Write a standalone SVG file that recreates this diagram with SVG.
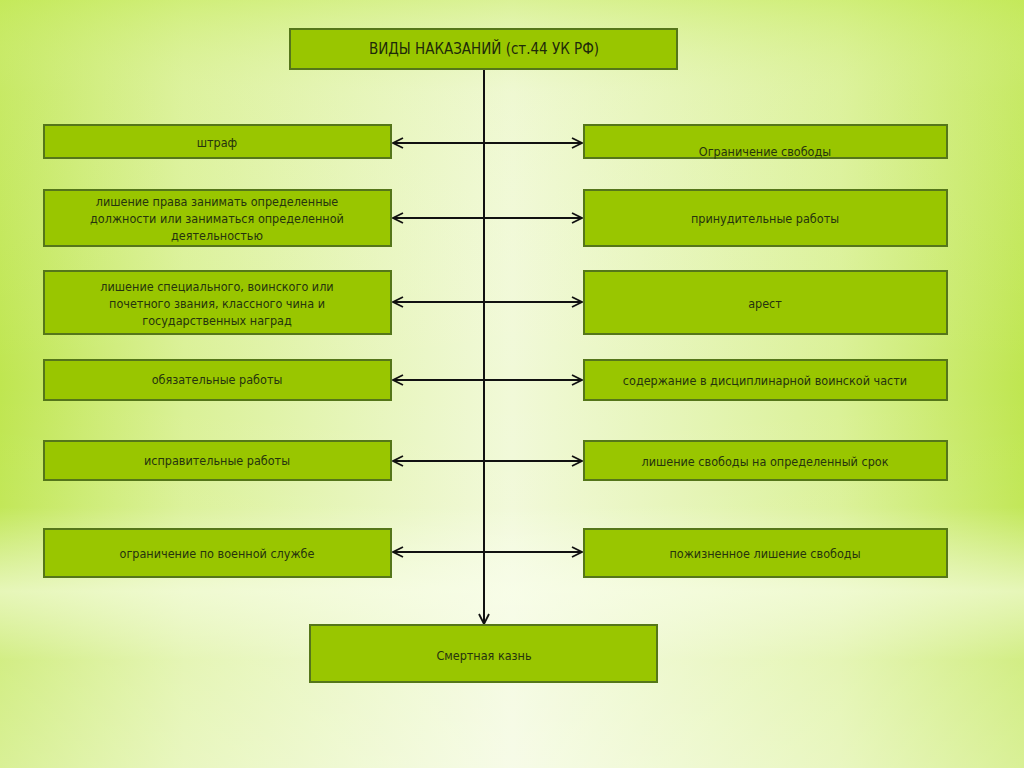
<svg xmlns="http://www.w3.org/2000/svg" width="1024" height="768" viewBox="0 0 1024 768">
<defs>
<linearGradient id="bgh" x1="0" y1="0" x2="1" y2="0">
<stop offset="0" stop-color="#bfe650"/>
<stop offset="0.18" stop-color="#daf196"/>
<stop offset="0.5" stop-color="#f1f9d8"/>
<stop offset="0.82" stop-color="#daf196"/>
<stop offset="1" stop-color="#bfe650"/>
</linearGradient>
<linearGradient id="bgv" x1="0" y1="0" x2="0" y2="1">
<stop offset="0" stop-color="#c8ec62" stop-opacity="0.55"/>
<stop offset="0.12" stop-color="#e6f5b8" stop-opacity="0.2"/>
<stop offset="0.5" stop-color="#ffffff" stop-opacity="0"/>
<stop offset="0.66" stop-color="#ffffff" stop-opacity="0.05"/>
<stop offset="0.77" stop-color="#fbfff0" stop-opacity="0.65"/>
<stop offset="0.86" stop-color="#ffffff" stop-opacity="0.3"/>
<stop offset="1" stop-color="#ffffff" stop-opacity="0.4"/>
</linearGradient>
<marker id="ah" viewBox="0 0 12 12" refX="11" refY="6" markerWidth="12" markerHeight="12" markerUnits="userSpaceOnUse" orient="auto-start-reverse">
<path d="M1,1 L11,6 L1,11" fill="none" stroke="#111" stroke-width="1.8"/>
</marker>
<style>
.box{fill:#99c600;stroke:#55761a;stroke-width:2}
.t{font-family:"DejaVu Sans Condensed","Liberation Sans",sans-serif;font-size:12.5px;fill:#26340e;text-anchor:middle}
.title{font-family:"DejaVu Sans Condensed","Liberation Sans",sans-serif;font-size:15px;fill:#1e2a0a;text-anchor:middle}
.c{stroke:#111;stroke-width:2;fill:none}
</style>
</defs>
<rect width="1024" height="768" fill="url(#bgh)"/>
<rect width="1024" height="768" fill="url(#bgv)"/>

<g id="connectors">
<line class="c" x1="484" y1="69" x2="484" y2="624" marker-end="url(#ah)"/>
<line class="c" x1="393" y1="143" x2="582" y2="143" marker-start="url(#ah)" marker-end="url(#ah)"/>
<line class="c" x1="393" y1="218" x2="582" y2="218" marker-start="url(#ah)" marker-end="url(#ah)"/>
<line class="c" x1="393" y1="302" x2="582" y2="302" marker-start="url(#ah)" marker-end="url(#ah)"/>
<line class="c" x1="393" y1="380" x2="582" y2="380" marker-start="url(#ah)" marker-end="url(#ah)"/>
<line class="c" x1="393" y1="461" x2="582" y2="461" marker-start="url(#ah)" marker-end="url(#ah)"/>
<line class="c" x1="393" y1="552" x2="582" y2="552" marker-start="url(#ah)" marker-end="url(#ah)"/>
</g>

<g id="title"><rect class="box" x="290" y="29" width="387" height="40"/><text class="title" x="484" y="54">ВИДЫ НАКАЗАНИЙ (ст.44 УК РФ)</text></g>

<g id="l1"><rect class="box" x="44" y="125" width="347" height="33"/><text class="t" x="217" y="147">штраф</text></g>
<g id="l2"><rect class="box" x="44" y="190" width="347" height="56"/>
<text class="t" x="217" y="206">лишение права занимать определенные</text>
<text class="t" x="217" y="223">должности или заниматься определенной</text>
<text class="t" x="217" y="240">деятельностью</text></g>
<g id="l3"><rect class="box" x="44" y="271" width="347" height="63"/>
<text class="t" x="217" y="291">лишение специального, воинского или</text>
<text class="t" x="217" y="308">почетного звания, классного чина и</text>
<text class="t" x="217" y="325">государственных наград</text></g>
<g id="l4"><rect class="box" x="44" y="360" width="347" height="40"/><text class="t" x="217" y="384">обязательные работы</text></g>
<g id="l5"><rect class="box" x="44" y="441" width="347" height="39"/><text class="t" x="217" y="465">исправительные работы</text></g>
<g id="l6"><rect class="box" x="44" y="529" width="347" height="48"/><text class="t" x="217" y="558">ограничение по военной службе</text></g>

<g id="r1"><rect class="box" x="584" y="125" width="363" height="33"/><text class="t" x="765" y="156">Ограничение свободы</text></g>
<g id="r2"><rect class="box" x="584" y="190" width="363" height="56"/><text class="t" x="765" y="223">принудительные работы</text></g>
<g id="r3"><rect class="box" x="584" y="271" width="363" height="63"/><text class="t" x="765" y="308">арест</text></g>
<g id="r4"><rect class="box" x="584" y="360" width="363" height="40"/><text class="t" x="765" y="385">содержание в дисциплинарной воинской части</text></g>
<g id="r5"><rect class="box" x="584" y="441" width="363" height="39"/><text class="t" x="765" y="466">лишение свободы на определенный срок</text></g>
<g id="r6"><rect class="box" x="584" y="529" width="363" height="48"/><text class="t" x="765" y="558">пожизненное лишение свободы</text></g>

<g id="bottom"><rect class="box" x="310" y="625" width="347" height="57"/><text class="t" x="484" y="660">Смертная казнь</text></g>
</svg>
